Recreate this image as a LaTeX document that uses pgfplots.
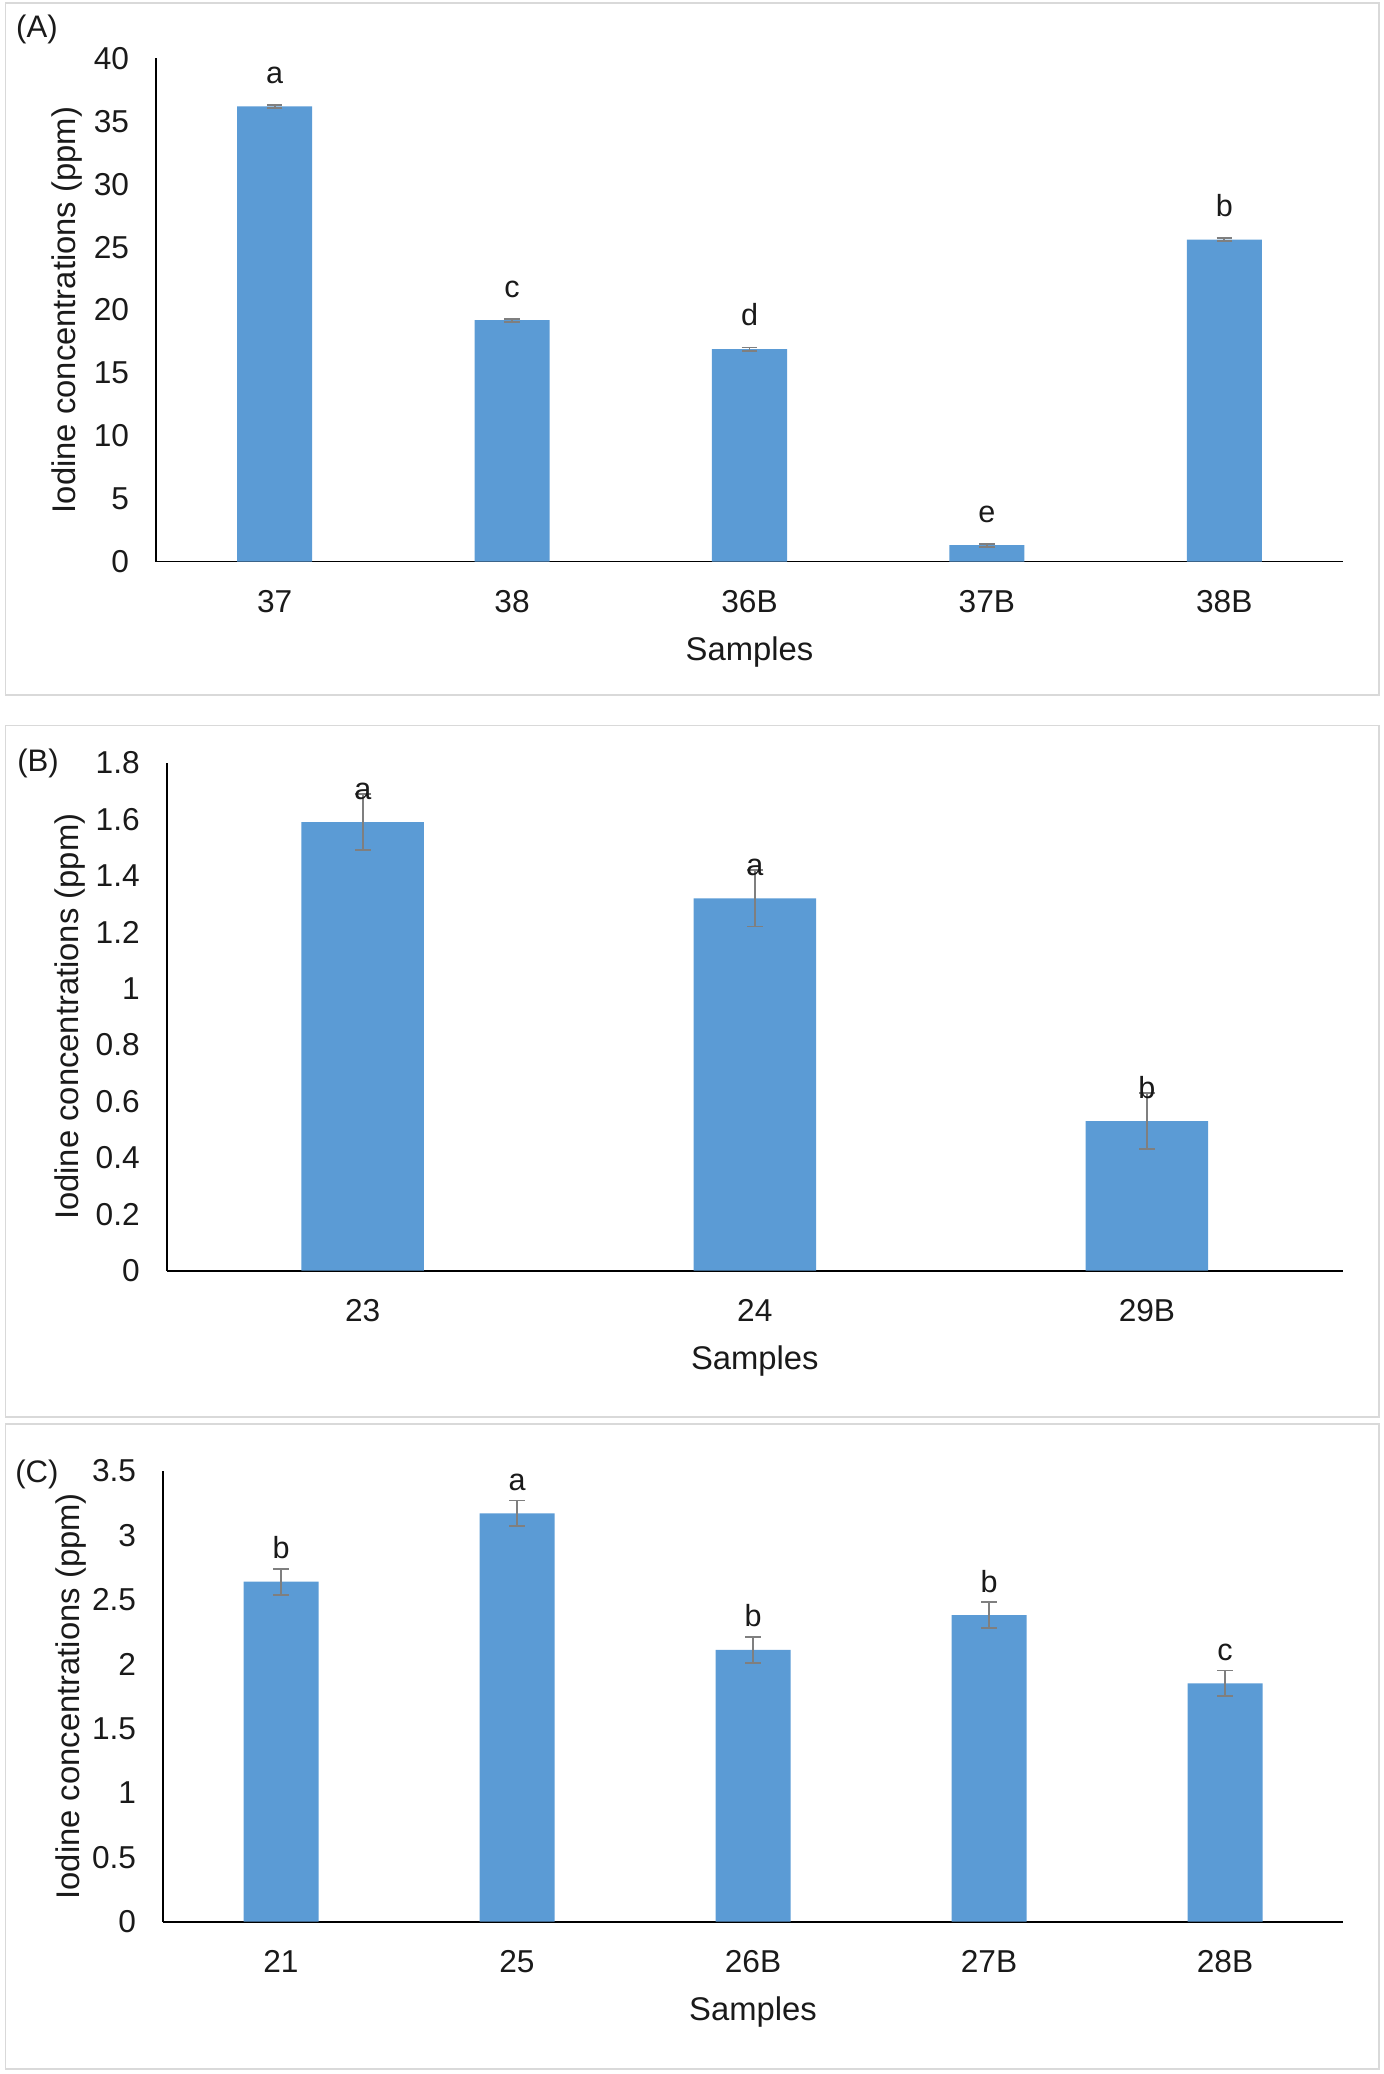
\documentclass[border=0pt]{standalone}
\usepackage{fontspec}
\setmainfont{Liberation Sans}
\usepackage{pgfplots}
\pgfplotsset{compat=1.18}

\definecolor{barblue}{HTML}{5B9BD5}
\definecolor{errgray}{HTML}{7F7F7F}
\definecolor{framegray}{HTML}{D9D9D9}
\definecolor{txt}{HTML}{1A1A1A}

\pgfplotsset{
  /pgf/number format/assume math mode=true,
  panel/.style={
    scale only axis, anchor=south west,
    ybar, ymin=0,
    axis x line=bottom, axis y line=left,
    axis line style={-, black, line width=0.5pt},
    major tick length=0pt,
    xtick=data,
    tick label style={font=\fontsize{11.4}{13}\selectfont, text=txt},
    yticklabel style={anchor=east, inner sep=0pt, xshift=-9.5pt},
    xticklabel style={anchor=center, inner sep=0pt, yshift=-14.4pt},
    label style={font=\fontsize{11.8}{14}\selectfont, text=txt},
    xlabel={Samples},
    ylabel={Iodine concentrations (ppm)},
    xlabel style={at={(axis description cs:0.5,0)}, anchor=center, yshift=-32.4pt},
    nodes near coords,
    point meta=explicit symbolic,
    every node near coord/.append style={anchor=base, yshift=8.3pt,
      font=\fontsize{11}{13}\selectfont, text=txt},
  },
  bars/.style={
    fill=barblue, draw=none,
    error bars/.cd, y dir=both, y explicit,
    error bar style={errgray, line width=0.7pt},
    error mark options={rotate=90, errgray, line width=0.7pt, mark size=2.8pt},
  },
}

\begin{document}
\begin{tikzpicture}
\path (0,0) rectangle (497.88pt,746.64pt);
% panel frames
\draw[framegray, line width=0.6pt] (1.98pt,496.44pt) rectangle (496.44pt,745.56pt);
\draw[framegray, line width=0.6pt] (1.98pt,236.52pt) rectangle (496.44pt,485.46pt);
\draw[framegray, line width=0.6pt] (1.98pt,1.8pt) rectangle (496.44pt,234.0pt);

% (A)
\begin{axis}[panel,
  at={(56.16pt,544.46pt)}, width=427.32pt, height=181.12pt,
  xmin=-0.5, xmax=4.5, ymax=40, ytick={0,5,...,40},
  xticklabels={37,38,36B,37B,38B},
  bar width=27pt,
  ylabel style={at={(axis description cs:-0.075,0.5)}, anchor=center},
]
\addplot[bars] table[x=x, y=y, y error=e, meta=l] {
x y e l
0 36.2 0.12 a
1 19.2 0.12 c
2 16.9 0.12 d
3 1.3 0.12 e
4 25.6 0.12 b
};
\end{axis}

% (B)
\begin{axis}[panel,
  at={(60.01pt,289.19pt)}, width=423.47pt, height=182.81pt,
  xmin=-0.5, xmax=2.5, ymax=1.8, ytick={0,0.2,0.4,0.6,0.8,1,1.2,1.4,1.6,1.8},
  xticklabels={23,24,29B},
  bar width=44.1pt,
  axis line style={line width=0.6pt},
  ylabel style={at={(axis description cs:-0.082,0.5)}, anchor=center},
]
\addplot[bars] table[x=x, y=y, y error=e, meta=l] {
x y e l
0 1.59 0.10 a
1 1.32 0.10 a
2 0.53 0.10 b
};
\end{axis}

% (C)
\begin{axis}[panel,
  at={(58.68pt,54.83pt)}, width=424.8pt, height=162.29pt,
  xmin=-0.5, xmax=4.5, ymax=3.5, ytick={0,0.5,1,1.5,2,2.5,3,3.5},
  xticklabels={21,25,26B,27B,28B},
  bar width=27pt,
  axis line style={line width=0.6pt},
  ylabel style={at={(axis description cs:-0.078,0.5)}, anchor=center},
]
\addplot[bars] table[x=x, y=y, y error=e, meta=l] {
x y e l
0 2.64 0.10 b
1 3.17 0.10 a
2 2.11 0.10 b
3 2.38 0.10 b
4 1.85 0.10 c
};
\end{axis}

\node[font=\fontsize{11.2}{13}\selectfont, text=txt] at (13.3pt,736.2pt) {(A)};
\node[font=\fontsize{11.2}{13}\selectfont, text=txt] at (13.7pt,471.96pt) {(B)};
\node[font=\fontsize{11.2}{13}\selectfont, text=txt] at (13.3pt,216.0pt) {(C)};
\end{tikzpicture}
\end{document}
